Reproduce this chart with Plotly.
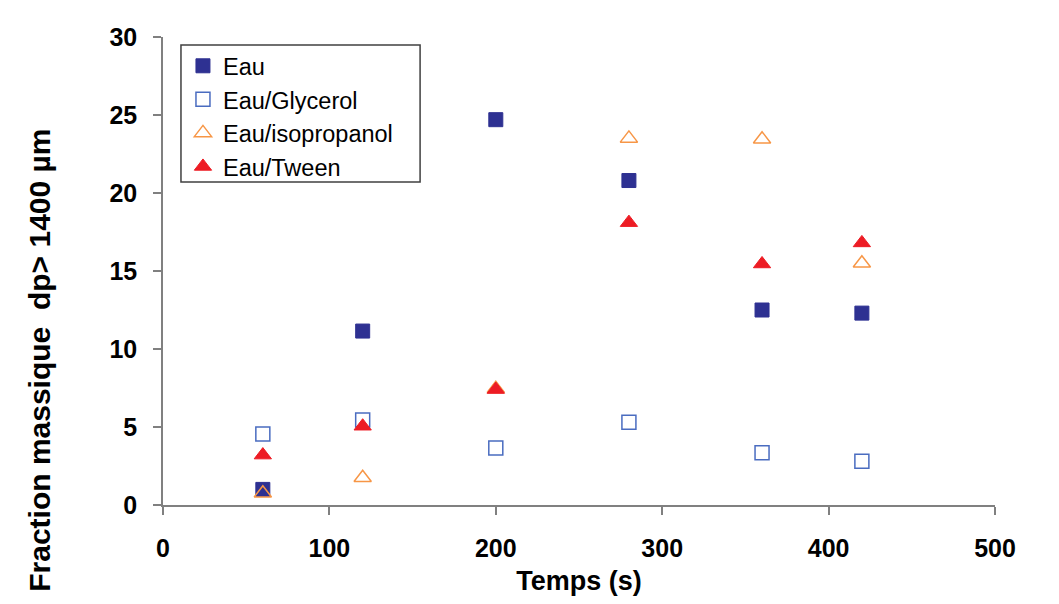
import plotly.graph_objects as go

temps = [60, 120, 200, 280, 360, 420]
eau = [1.0, 11.15, 24.7, 20.8, 12.5, 12.3]
eau_glycerol = [4.55, 5.45, 3.65, 5.3, 3.35, 2.8]
eau_isopropanol = [0.75, 1.75, 7.45, 23.5, 23.45, 15.5]
eau_tween = [3.2, 5.05, 7.4, 18.1, 15.45, 16.8]

x_ticks = [0, 100, 200, 300, 400, 500]
y_ticks = [0, 5, 10, 15, 20, 25, 30]

FONT = "Liberation Sans, Arial"

fig = go.Figure()
fig.add_trace(go.Scatter(x=temps, y=eau, mode="markers", name="Eau",
                         marker=dict(symbol="square", size=14, color="#2E3192",
                                     line=dict(color="#2E3192", width=1))))
fig.add_trace(go.Scatter(x=temps, y=eau_glycerol, mode="markers", name="Eau/Glycerol",
                         marker=dict(symbol="square-open", size=14, color="#4A6CC0",
                                     line=dict(color="#4A6CC0", width=1.5))))
fig.add_trace(go.Scatter(x=temps, y=eau_isopropanol, mode="markers", name="Eau/isopropanol",
                         marker=dict(symbol="triangle-up-open", size=15, color="#F79646",
                                     line=dict(color="#F79646", width=1.5))))
fig.add_trace(go.Scatter(x=temps, y=eau_tween, mode="markers", name="Eau/Tween",
                         marker=dict(symbol="triangle-up", size=15, color="#ED1C24",
                                     line=dict(color="#ED1C24", width=1))))

axis_common = dict(showgrid=False, zeroline=False, showline=True, linecolor="#808080",
                   linewidth=1.5, ticks="outside", ticklen=8, tickcolor="#808080",
                   tickwidth=1.5, automargin=False,
                   tickfont=dict(family=FONT, size=25, color="black", weight="bold"))

fig.update_xaxes(range=[0, 500], tickvals=x_ticks, ticklabelstandoff=12,
                 title=dict(text="Temps (s)", font=dict(family=FONT, size=27,
                                                        color="black", weight="bold"), standoff=14),
                 **axis_common)
fig.update_yaxes(range=[0, 30], tickvals=y_ticks, ticklabelstandoff=11, **axis_common)

fig.add_annotation(text="Fraction massique  dp> 1400 µm", xref="paper", yref="paper",
                   x=-0.148, y=0.31, xanchor="center", yanchor="middle", textangle=-90,
                   showarrow=False,
                   font=dict(family=FONT, size=30, color="black", weight="bold"))

fig.add_shape(type="rect", xref="paper", yref="paper",
              x0=0.0216, x1=0.309, y0=0.690, y1=0.983,
              line=dict(color="#404040", width=1.5), fillcolor="rgba(0,0,0,0)")

fig.update_layout(
    width=1043, height=588,
    margin=dict(l=155, r=56, t=29, b=91),
    plot_bgcolor="white", paper_bgcolor="white",
    legend=dict(x=0.024, y=0.985, xanchor="left", yanchor="top",
                bgcolor="rgba(0,0,0,0)", borderwidth=0,
                font=dict(family=FONT, size=23.5, color="black"),
                itemwidth=30, tracegroupgap=0),
    showlegend=True,
)

fig.write_html("out.html")
